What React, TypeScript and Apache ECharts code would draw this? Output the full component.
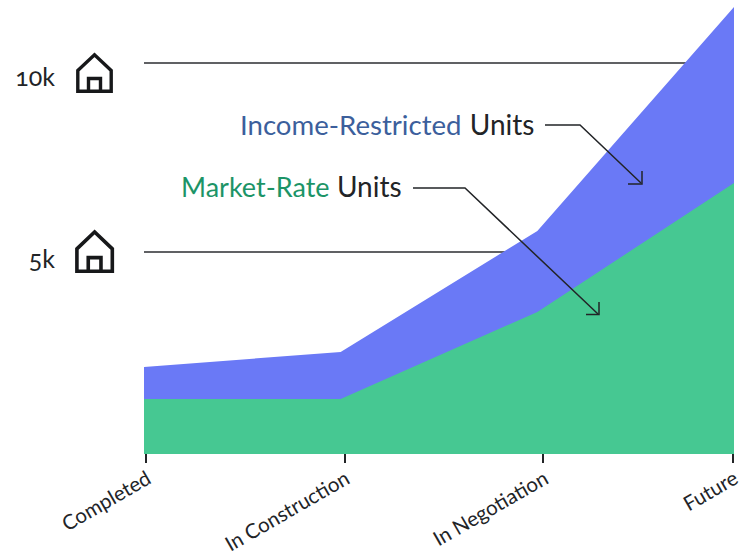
import React, { useEffect, useRef } from "react";
import * as echarts from "echarts";

const categories = ["Completed", "In Construction", "In Negotiation", "Future"];
const stagePositions = [0, 1, 2, 3];
const tickPositions = [0.01, 1.02, 2.03, 2.995];
const marketRateUnits = [1111, 1111, 3413, 6825];
const incomeRestrictedUnits = [847, 1243, 2143, 4656];
const yTicks = [5000, 10000];
const yTickLabels: Record<number, string> = { 5000: "{five|5k}", 10000: "{ten|10k}" };

const FONT = "Lato, 'Noto Sans', sans-serif";
const INK = "#222427";

const HOUSE = "M1.8,38.2 V17.5 L18.5,1.8 L35.2,17.5 V38.2 Z M12.5,38 V25.5 H24.5 V38";

echarts.graphic.registerShape("house", echarts.graphic.extendPath(HOUSE as any, {}) as any);

const leaderStyle = { stroke: INK, lineWidth: 1.5, fill: "none" };

function polyline(points: number[][]) {
  return { type: "polyline", z: 20, shape: { points }, style: leaderStyle };
}

// The restricted band sits on top of the market-rate band, so its outline is the running total.
const totalUnits = marketRateUnits.map((v, i) => v + incomeRestrictedUnits[i]);

function seriesPoints(values: number[]) {
  return values.map((v, i) => [stagePositions[i], v]);
}

export default function App() {
  const ref = useRef<HTMLDivElement>(null);

  useEffect(() => {
    const chart = echarts.init(ref.current!, undefined, { renderer: "svg" });
    chart.setOption({
      animation: false,
      backgroundColor: "#ffffff",
      grid: { left: 144, right: 8, top: 7, bottom: 101, outerBoundsMode: "none" },
      xAxis: {
        type: "value",
        min: 0,
        max: 3,
        splitLine: { show: false },
        axisLine: { show: false, onZero: false },
        axisTick: {
          show: true,
          customValues: tickPositions,
          length: 9,
          lineStyle: { color: INK, width: 2 },
        },
        axisLabel: {
          customValues: tickPositions,
          rotate: 30,
          margin: 23,
          padding: [0, -3, 0, 0],
          hideOverlap: false,
          showMinLabel: true,
          showMaxLabel: true,
          fontFamily: FONT,
          fontSize: 20.5,
          color: INK,
          formatter: (value: number) => categories[Math.round(value)],
        },
      },
      yAxis: {
        type: "value",
        min: -344,
        max: 11481,
        axisLine: { show: false },
        axisTick: { show: false, customValues: yTicks },
        splitLine: { show: true, lineStyle: { color: "#2b2d30", width: 1.6 } },
        axisLabel: {
          customValues: yTicks,
          margin: 89,
          verticalAlign: "middle",
          formatter: (value: number) => yTickLabels[value],
          rich: {
            ten: { fontFamily: FONT, fontSize: 25, color: INK, padding: [27, 0, 0, 0] },
            five: { fontFamily: FONT, fontSize: 25, color: INK, padding: [12, 0, 0, 0] },
          },
        },
      },
      series: [
        {
          name: "Income-Restricted Units",
          type: "line",
          z: 2,
          showSymbol: false,
          lineStyle: { width: 0 },
          areaStyle: { color: "#6a79f6", opacity: 1, origin: "start" },
          data: seriesPoints(totalUnits),
        },
        {
          name: "Market-Rate Units",
          type: "line",
          z: 3,
          showSymbol: false,
          lineStyle: { width: 0 },
          areaStyle: { color: "#46c892", opacity: 1, origin: "start" },
          data: seriesPoints(marketRateUnits),
        },
      ],
      graphic: [
        { type: "house", x: 76, y: 53, z: 20, style: { fill: "none", stroke: "#17181a", lineWidth: 3.4 } },
        {
          type: "house",
          x: 75,
          y: 230,
          scaleX: 1.06,
          scaleY: 1.08,
          z: 20,
          style: { fill: "none", stroke: "#17181a", lineWidth: 3.4 },
        },
        {
          type: "text",
          x: 240,
          y: 110,
          z: 20,
          style: {
            text: "{a|Income-Restricted} {b|Units}",
            rich: {
              a: { fill: "#3c5f9c", fontFamily: FONT, fontSize: 27.6 },
              b: { fill: INK, fontFamily: FONT, fontSize: 28, padding: [0, 0, 0, 5] },
            },
          },
        },
        {
          type: "text",
          x: 181,
          y: 172,
          z: 20,
          style: {
            text: "{a|Market-Rate} {b|Units}",
            rich: {
              a: { fill: "#1c9467", fontFamily: FONT, fontSize: 27 },
              b: { fill: INK, fontFamily: FONT, fontSize: 28, padding: [0, 0, 0, 4] },
            },
          },
        },
        polyline([[545, 125], [580, 125], [641, 183]]),
        polyline([[628, 184], [642, 184], [642, 171]]),
        polyline([[413, 188], [465, 188], [598, 314]]),
        polyline([[586, 314.5], [599, 314.5], [599, 302]]),
      ],
    });
    return () => chart.dispose();
  }, []);

  return (
    <div
      ref={ref}
      style={{
        position: "fixed",
        left: 0,
        top: 0,
        width: 742,
        height: 555,
        fontFeatureSettings: '"onum"',
      }}
    />
  );
}
